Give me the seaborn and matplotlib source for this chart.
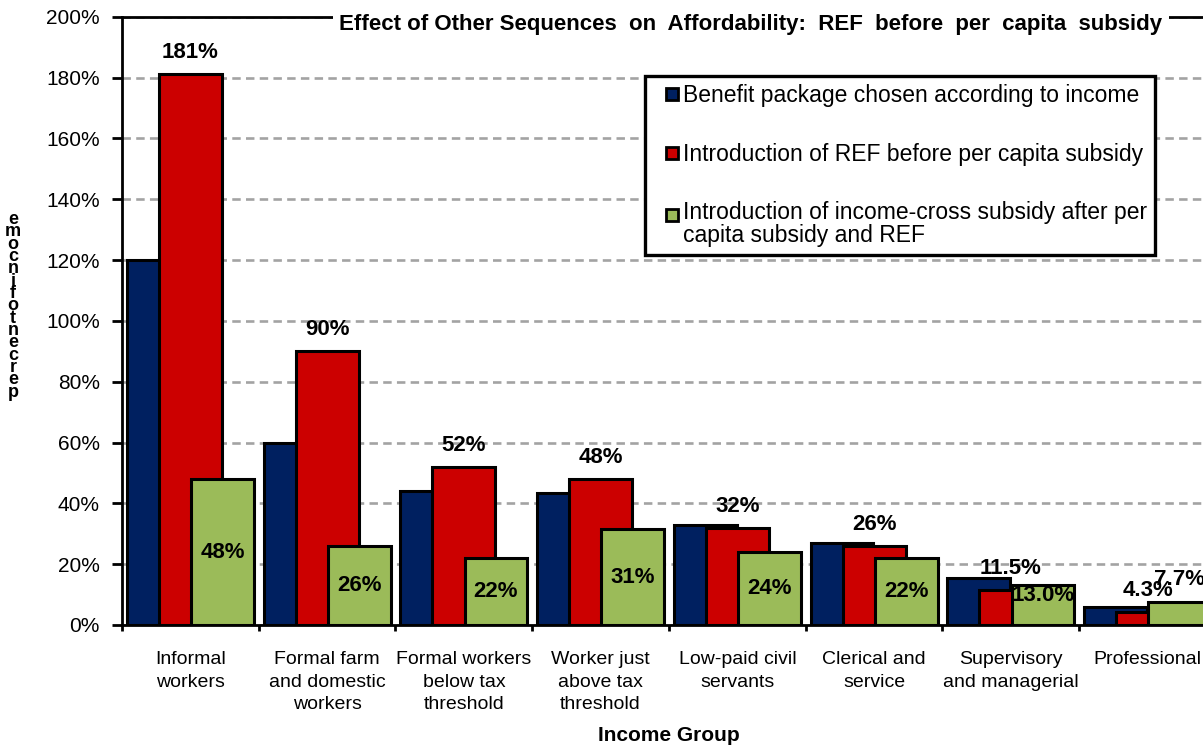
import matplotlib
matplotlib.use("Agg")
from matplotlib import pyplot as plt
from matplotlib.lines import Line2D
from matplotlib.legend_handler import HandlerLine2D
from matplotlib.ticker import FixedLocator, FuncFormatter
import seaborn as sns
import pandas as pd
import numpy as np

# income groups on the x axis
groups = [
    "Informal\nworkers",
    "Formal farm\nand domestic\nworkers",
    "Formal workers\nbelow tax\nthreshold",
    "Worker just\nabove tax\nthreshold",
    "Low-paid civil\nservants",
    "Clerical and\nservice",
    "Supervisory\nand managerial",
    "Professional",
]

# per cent of income
benefit_package = [120, 60, 44, 43.5, 33, 27, 15.5, 6]
ref_before_subsidy = [181, 90, 52, 48, 32, 26, 11.5, 4.3]
income_cross_subsidy = [48, 26, 22, 31.4, 24, 22, 13.0, 7.7]

series_names = [
    "Benefit package chosen according to income",
    "Introduction of REF before per capita subsidy",
    "Introduction of income-cross subsidy after per\ncapita subsidy and REF",
]
colors = ["#002060", "#CC0000", "#9BBB59"]

title = "Effect of Other Sequences  on  Affordability:  REF  before  per  capita  subsidy"


def pct_label(v):
    if v < 20:
        return "{:.1f}%".format(v)
    return "{:.0f}%".format(v)


class FirstLineHandler(HandlerLine2D):
    # put the marker next to the first line of a two-line label
    def create_artists(self, legend, orig_handle, xdescent, ydescent,
                       width, height, fontsize, trans):
        artists = super().create_artists(legend, orig_handle, xdescent,
                                         ydescent, width, height, fontsize, trans)
        for a in artists:
            a.set_ydata([y + 0.45 * fontsize for y in a.get_ydata()])
        return artists


def draw():
    rows = []
    for name, vals in zip(series_names,
                          [benefit_package, ref_before_subsidy, income_cross_subsidy]):
        for g, v in zip(groups, vals):
            rows.append({"group": g, "series": name, "value": v})
    df = pd.DataFrame(rows)

    sns.set_style("white")
    plt.rcParams['font.family'] = ['Liberation Sans', 'DejaVu Sans']
    plt.rcParams['text.color'] = 'black'
    plt.rcParams['axes.labelcolor'] = 'black'
    plt.rcParams['xtick.color'] = 'black'
    plt.rcParams['ytick.color'] = 'black'

    fig = plt.figure(figsize=(12.03, 7.46), dpi=100)
    # the plot area runs a little past the right edge, as in the original
    ax = fig.add_axes([0.1014, 0.1622, 0.9094, 0.8154])

    sns.barplot(data=df, x="group", y="value", hue="series",
                palette=colors, dodge=True, width=0.705, errorbar=None,
                edgecolor="black", linewidth=2.2, saturation=1,
                legend=False, ax=ax)

    # overlapping bars: keep the dodge centres, widen each bar
    bar_w = 0.46
    for p in ax.patches:
        cx = p.get_x() + p.get_width() / 2
        p.set_width(bar_w)
        p.set_x(cx - bar_w / 2)

    ax.set_xlim(-0.5, len(groups) - 0.5)
    ax.set_ylim(0, 200)
    ax.set_yticks(np.arange(0, 201, 20))
    ax.yaxis.set_major_formatter(FuncFormatter(lambda v, pos: "{:.0f}%".format(v)))
    ax.tick_params(axis="y", labelsize=15, length=7, width=2, pad=9,
                   direction="out", left=True)
    ax.xaxis.set_minor_locator(FixedLocator(np.arange(-0.5, len(groups), 1)))
    ax.tick_params(axis="x", which="major", length=0, labelsize=14, pad=19)
    ax.tick_params(axis="x", which="minor", length=4, width=2,
                   direction="out", bottom=True)
    for lab in ax.get_xticklabels():
        lab.set_linespacing(1.4)

    ax.set_axisbelow(True)
    ax.yaxis.grid(True, color="#A3A3A3", linewidth=1.9, linestyle=(0, (3.2, 2)))
    for side in ["left", "bottom", "top", "right"]:
        ax.spines[side].set_visible(True)
        ax.spines[side].set_color("black")
        ax.spines[side].set_linewidth(2)

    ax.set_ylabel("")
    ax.set_xlabel("Income Group", fontsize=15, fontweight="bold")
    ax.xaxis.set_label_coords(0.5, -0.166)

    # value labels
    for i, v in enumerate(ref_before_subsidy):
        ax.annotate(pct_label(v), xy=(i, v), xytext=(0, 8),
                    textcoords="offset points", ha="center", va="bottom",
                    fontsize=16, fontweight="bold")
    for i, v in enumerate(income_cross_subsidy):
        x = i + 0.235
        if v >= 20:
            ax.text(x, v / 2, pct_label(v), ha="center", va="center",
                    fontsize=16, fontweight="bold")
        elif v >= 10:
            ax.annotate(pct_label(v), xy=(x, v), xytext=(0, 0),
                        textcoords="offset points", ha="center", va="top",
                        fontsize=16, fontweight="bold")
        else:
            ax.annotate(pct_label(v), xy=(x, v), xytext=(0, 8),
                        textcoords="offset points", ha="center", va="bottom",
                        fontsize=16, fontweight="bold", annotation_clip=False)

    # title sits on the top frame line
    ax.text(0.575, 0.9864, title, transform=ax.transAxes, ha="center",
            va="center", fontsize=16, fontweight="bold", zorder=10,
            bbox=dict(facecolor="white", edgecolor="none", pad=5))

    # stacked y label
    fig.text(0.011, 0.59, "\n".join(reversed("percentofincome")),
             ha="center", va="center", fontsize=13, fontweight="bold",
             linespacing=0.64)

    handles = [Line2D([], [], linestyle="none", marker="s", markersize=9,
                      markerfacecolor=c, markeredgecolor="black",
                      markeredgewidth=2) for c in colors]
    leg = ax.legend(handles, series_names, loc="upper left",
                    bbox_to_anchor=(0.478, 0.902), fontsize=16.5,
                    frameon=True, fancybox=False, framealpha=1,
                    edgecolor="black", handlelength=1.7,
                    handletextpad=-0.4, labelspacing=1.55, borderpad=0.35,
                    borderaxespad=0,
                    handler_map={handles[2]: FirstLineHandler()})
    for t in leg.get_texts():
        t.set_linespacing(1.0)
    leg.get_frame().set_linewidth(2.4)

    fig.savefig("out.png", dpi=100)


if __name__ == '__main__':
    draw()
